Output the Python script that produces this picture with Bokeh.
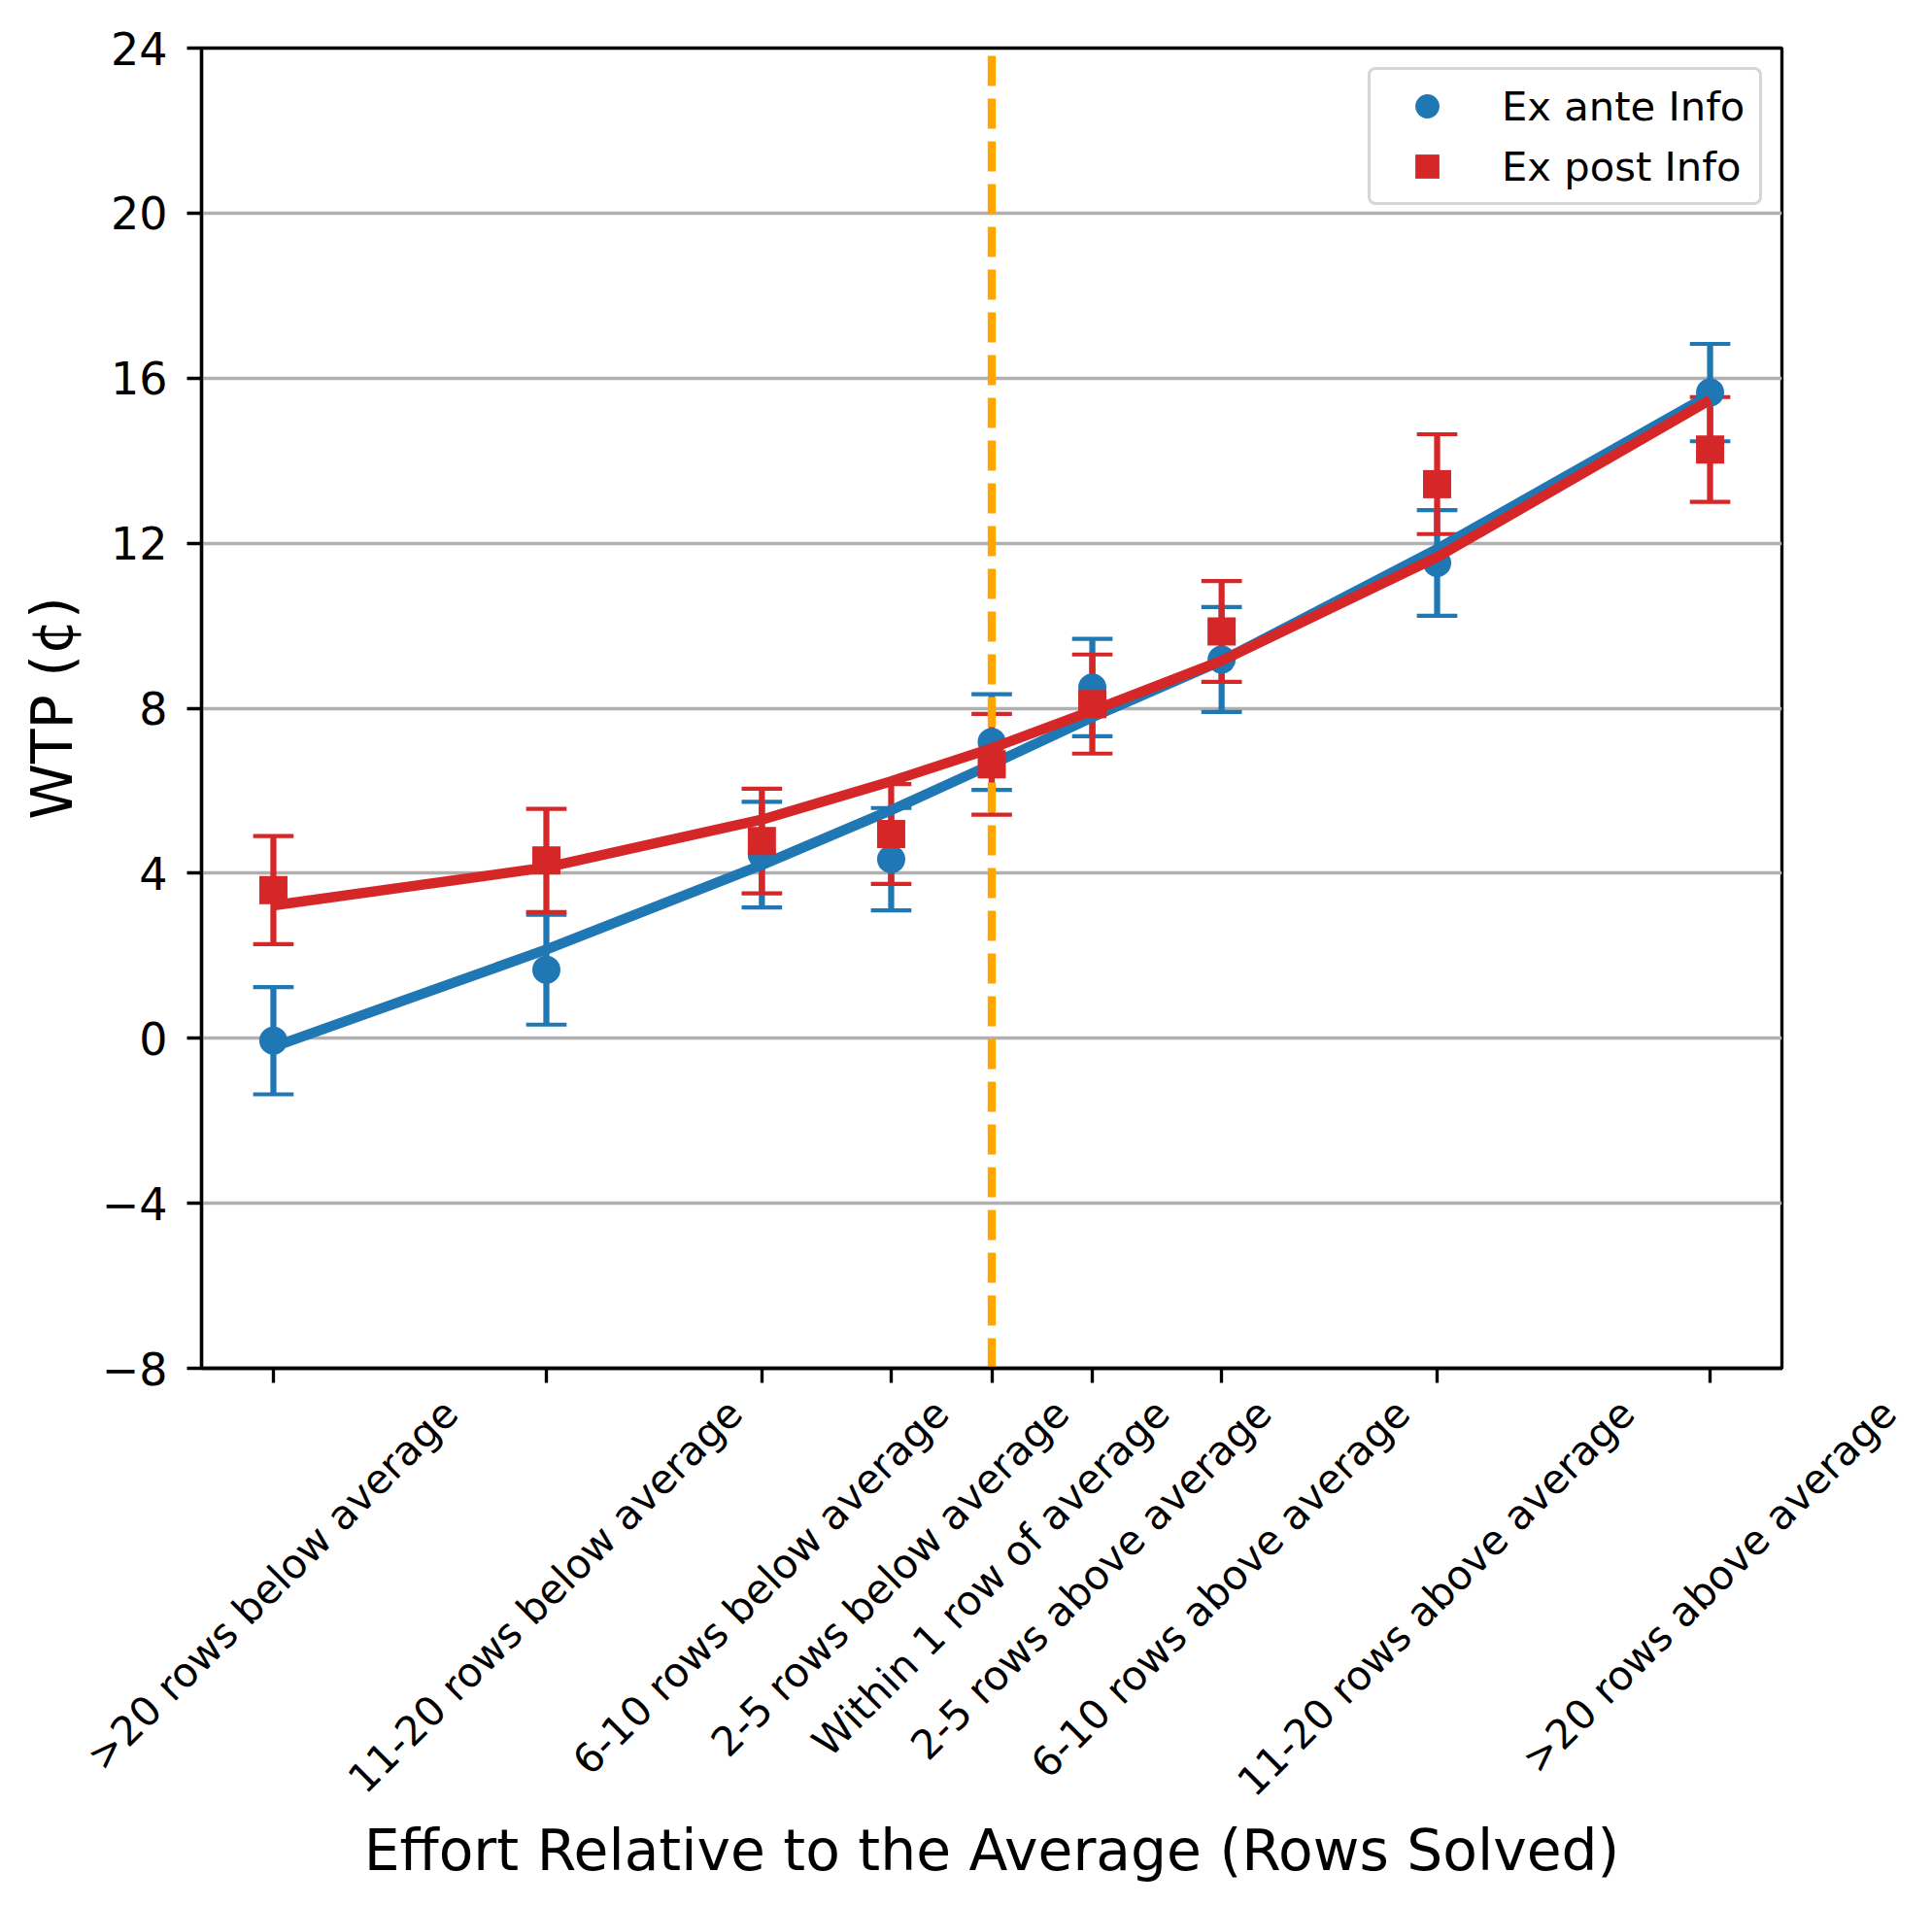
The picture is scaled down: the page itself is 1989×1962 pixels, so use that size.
import math
from bokeh.plotting import figure
from bokeh.layouts import column
from bokeh.models import ColumnDataSource, FixedTicker, Label, Legend, LegendItem, Range1d
from bokeh.embed import file_html
from bokeh.resources import INLINE

# ---------------- data ----------------
categories = [">20 rows below average", "11-20 rows below average", "6-10 rows below average",
              "2-5 rows below average", "Within 1 row of average", "2-5 rows above average",
              "6-10 rows above average", "11-20 rows above average", ">20 rows above average"]
positions = [-25, -15.5, -8, -3.5, 0, 3.5, 8, 15.5, 25]

ex_ante_mean = [-0.06, 1.66, 4.45, 4.34, 7.18, 8.50, 9.18, 11.52, 15.65]
ex_ante_err = [1.30, 1.33, 1.28, 1.24, 1.16, 1.18, 1.27, 1.28, 1.18]
ex_post_mean = [3.59, 4.31, 4.78, 4.95, 6.64, 8.10, 9.86, 13.43, 14.27]
ex_post_err = [1.31, 1.25, 1.27, 1.21, 1.22, 1.20, 1.22, 1.21, 1.27]

ex_ante_fit = [-0.21, 2.15, 4.20, 5.53, 6.64, 7.78, 9.15, 11.86, 15.60]
ex_post_fit = [3.22, 4.14, 5.30, 6.23, 7.03, 7.94, 9.15, 11.66, 15.47]

y_ticks = [-8, -4, 0, 4, 8, 12, 16, 20, 24]
y_tick_labels = ["\u22128", "\u22124", "0", "4", "8", "12", "16", "20", "24"]
vline_x = 0
legend_labels = ["Ex ante Info", "Ex post Info"]
x_title = "Effort Relative to the Average (Rows Solved)"
y_title = "WTP (\u00a2)"

# ---------------- styling / layout ----------------
PT = 300 / 72.0
FONT = "DejaVu Sans"
BLUE, RED, ORANGE = "#1f77b4", "#d62728", "#ffa500"
W = 1985
FL, FT, FR, FB = 207, 49, 1834, 1408      # plot frame in page pixels
H1 = FB + 30                              # main figure height
OV = 40                                   # label strip overlaps the main figure's bottom border
Q_TOP = H1 - OV                           # page y of the label strip's top edge
H2 = 1954 - Q_TOP                         # label strip height

span = max(positions) - min(positions)
x_start, x_end = min(positions) - 0.05 * span, max(positions) + 0.05 * span
y_start, y_end = y_ticks[0], y_ticks[-1]

p = figure(width=W, height=H1, output_backend="svg", toolbar_location=None, title=None,
           x_range=Range1d(x_start, x_end), y_range=Range1d(y_start, y_end),
           min_border_left=FL, min_border_top=FT, min_border_right=W - FR,
           min_border_bottom=H1 - FB, background_fill_color="white", border_fill_color="white")

p.outline_line_color = "black"
p.outline_line_width = 0.8 * PT
p.outline_line_alpha = 1.0

for ax in (p.xaxis[0], p.yaxis[0]):
    ax.axis_line_color = "black"
    ax.axis_line_width = 0.8 * PT
    ax.major_tick_line_color = "black"
    ax.major_tick_line_width = 0.8 * PT
    ax.major_tick_out = round(3.5 * PT)
    ax.major_tick_in = 0
    ax.minor_tick_line_color = None

p.xaxis.ticker = FixedTicker(ticks=positions)
p.xaxis.major_label_overrides = {x: "" for x in positions}
p.xaxis.major_label_text_font_size = "0px"
p.xaxis.major_label_standoff = 0

p.yaxis.ticker = FixedTicker(ticks=y_ticks)
p.yaxis.major_label_overrides = dict(zip(y_ticks, y_tick_labels))
p.yaxis.major_label_text_font = FONT
p.yaxis.major_label_text_font_size = "46px"
p.yaxis.major_label_text_color = "black"
p.yaxis.major_label_standoff = 20
p.yaxis.axis_label = y_title
p.yaxis.axis_label_text_font = FONT
p.yaxis.axis_label_text_font_size = "58.3px"
p.yaxis.axis_label_text_font_style = "normal"
p.yaxis.axis_label_text_color = "black"
p.yaxis.axis_label_standoff = 14

p.xgrid.visible = False
p.ygrid.grid_line_color = "#b0b0b0"
p.ygrid.grid_line_width = 0.8 * PT

src = ColumnDataSource(dict(
    x=positions,
    ante=ex_ante_mean,
    ante_lo=[m - e for m, e in zip(ex_ante_mean, ex_ante_err)],
    ante_hi=[m + e for m, e in zip(ex_ante_mean, ex_ante_err)],
    post=ex_post_mean,
    post_lo=[m - e for m, e in zip(ex_post_mean, ex_post_err)],
    post_hi=[m + e for m, e in zip(ex_post_mean, ex_post_err)],
    ante_fit=ex_ante_fit,
    post_fit=ex_post_fit,
))

# error bars (below everything else)
for col, lo, hi in ((BLUE, "ante_lo", "ante_hi"), (RED, "post_lo", "post_hi")):
    p.segment(x0="x", y0=lo, x1="x", y1=hi, source=src, line_color=col, line_width=1.5 * PT)
    for c in (lo, hi):
        p.scatter(x="x", y=c, source=src, marker="dash", size=10 * PT,
                  line_color=col, line_width=1.0 * PT)

# vertical reference line
p.segment(x0=[vline_x], y0=[y_start], x1=[vline_x], y1=[y_end], line_color=ORANGE,
          line_width=2 * PT, line_dash="31 13")

r_ante = p.scatter(x="x", y="ante", source=src, marker="circle", size=29,
                   fill_color=BLUE, line_color=None)
p.line(x="x", y="ante_fit", source=src, line_color=BLUE, line_width=2.5 * PT, line_join="round")
r_post = p.scatter(x="x", y="post", source=src, marker="square", size=29,
                   fill_color=RED, line_color=None)
p.line(x="x", y="post_fit", source=src, line_color=RED, line_width=2.5 * PT, line_join="round")

legend = Legend(items=[LegendItem(label=legend_labels[0], renderers=[r_ante]),
                       LegendItem(label=legend_labels[1], renderers=[r_post])],
                location="top_right", orientation="vertical", margin=20, padding=6, spacing=0,
                glyph_width=104, glyph_height=62, label_standoff=25, label_width=259,
                label_text_font=FONT, label_text_font_size="41.7px", label_text_color="black",
                border_line_color="#cccccc", border_line_alpha=0.8, border_line_width=3.5,
                background_fill_color="white", background_fill_alpha=0.8)
if "border_radius" in Legend.properties():
    legend.border_radius = 8
p.add_layout(legend)

# ---------------- transparent strip with the rotated category labels ----------------
ppu = (FR - FL) / (x_end - x_start)
q = figure(width=W, height=H2, output_backend="svg", toolbar_location=None, title=None,
           x_range=Range1d(x_start - FL / ppu, x_start + (W - FL) / ppu),
           y_range=Range1d(-H2, 0), x_axis_location=None, y_axis_location=None,
           min_border=0, min_border_left=0, min_border_right=0, min_border_top=0,
           min_border_bottom=0, background_fill_color=None, border_fill_color=None)
q.outline_line_color = None
q.grid.visible = False
q.styles = {"margin-top": f"-{OV}px"}

for fig in (p, q):
    if "frame_align" in fig.properties():
        fig.frame_align = False

ADV = {' ': 651, '-': 739, '>': 1716, 'a': 1255, 'b': 1300, 'e': 1260, 'f': 721, 'g': 1300,
       'h': 1298, 'i': 569, 'l': 569, 'n': 1298, 'o': 1253, 'r': 842, 's': 1067, 't': 803,
       'v': 1212, 'w': 1675, 'W': 2025}
for d in "0123456789":
    ADV[d] = 1303


def width_em(s):
    return sum(ADV.get(ch, 1250) for ch in s) / 2048.0


TICK_FS = 10 * PT
BASE_Y = 1447.0      # page y of each label's anchor (end of its baseline)
for xp, lab in zip(positions, categories):
    L = width_em(lab) * TICK_FS
    q.add_layout(Label(x=xp, y=-(BASE_Y - Q_TOP), x_offset=0.3535 * L - 1.4,
                       text=lab, angle=math.pi / 4, text_align="right",
                       text_baseline="alphabetic", text_font=FONT,
                       text_font_size=f"{TICK_FS:.1f}px", text_color="black"))

q.add_layout(Label(x=(x_start + x_end) / 2, y=-(1904.5 - Q_TOP), text=x_title,
                   text_align="center", text_baseline="alphabetic", text_font=FONT,
                   text_font_size="58.3px", text_color="black"))

layout = column(p, q, spacing=0)
open("out.html", "w").write(file_html(layout, INLINE))
